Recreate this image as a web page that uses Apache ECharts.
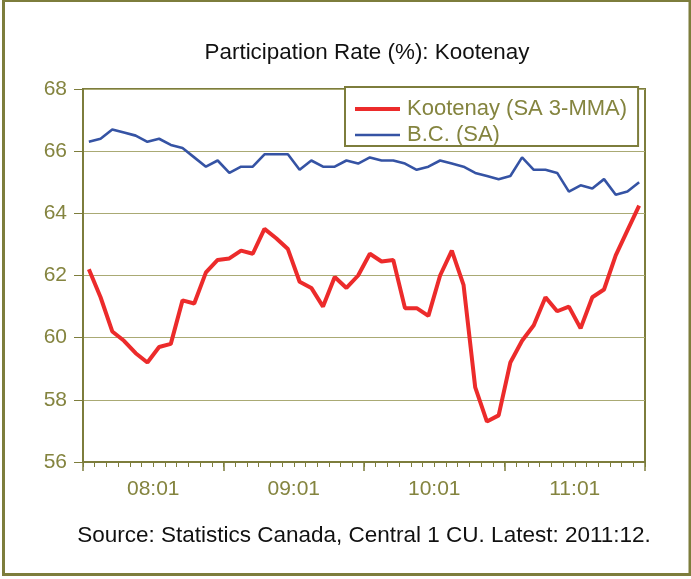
<!DOCTYPE html>
<html>
<head>
<meta charset="utf-8">
<script src="https://cdn.jsdelivr.net/npm/echarts@6/dist/echarts.min.js"></script>
<style>
  html, body { margin: 0; padding: 0; background: #ffffff; }
  #chart { width: 691px; height: 579px; }
</style>
</head>
<body>
<div id="chart"></div>
<script>
// Monthly participation rate, 2008:01 - 2011:12
var years = ['08', '09', '10', '11'];
var monthCodes = ['01','02','03','04','05','06','07','08','09','10','11','12'];
var yearLabels = ['08:01', '09:01', '10:01', '11:01'];

var kootenay = [
  62.2, 61.3, 60.2, 59.9, 59.5, 59.2, 59.7, 59.8, 61.2, 61.1, 62.1, 62.5,
  62.55, 62.8, 62.7, 63.5, 63.2, 62.85, 61.8, 61.6, 61.0, 61.95, 61.6, 62.0,
  62.7, 62.45, 62.5, 60.95, 60.95, 60.7, 62.0, 62.8, 61.7, 58.4, 57.3, 57.5,
  59.2, 59.9, 60.4, 61.3, 60.85, 61.0, 60.3, 61.3, 61.55, 62.65, 63.45, 64.25
];

var bc = [
  66.3, 66.4, 66.7, 66.6, 66.5, 66.3, 66.4, 66.2, 66.1, 65.8, 65.5, 65.7,
  65.3, 65.5, 65.5, 65.9, 65.9, 65.9, 65.4, 65.7, 65.5, 65.5, 65.7, 65.6,
  65.8, 65.7, 65.7, 65.6, 65.4, 65.5, 65.7, 65.6, 65.5, 65.3, 65.2, 65.1,
  65.2, 65.8, 65.4, 65.4, 65.3, 64.7, 64.9, 64.8, 65.1, 64.6, 64.7, 65.0
];

var months = [];
years.forEach(function (y) {
  monthCodes.forEach(function (m) { months.push(y + ':' + m); });
});

var olive = '#7d7d3c';
var oliveText = '#84843f';
var gridColor = '#aaaa74';
var redColor = '#ec2b2b';
var blueColor = '#3553a4';
var font = "'Liberation Sans', Arial, sans-serif";

var chart = echarts.init(document.getElementById('chart'), null, { renderer: 'canvas' });

chart.setOption({
  backgroundColor: '#ffffff',
  animation: false,
  title: [
    {
      text: 'Participation Rate (%): Kootenay',
      left: 362,
      top: 37,
      textAlign: 'center',
      textStyle: { fontFamily: font, fontSize: 22.4, fontWeight: 'normal', color: '#111111' }
    },
    {
      text: 'Source: Statistics Canada, Central 1 CU. Latest: 2011:12.',
      left: 359,
      top: 519,
      textAlign: 'center',
      textStyle: { fontFamily: font, fontSize: 22.5, fontWeight: 'normal', color: '#111111' }
    }
  ],
  graphic: [
    {
      type: 'rect',
      shape: { x: 3.5, y: 0.5, width: 686.5, height: 574 },
      style: { fill: 'none', stroke: olive, lineWidth: 3 },
      silent: true
    }
  ],
  legend: {
    orient: 'vertical',
    left: 345,
    top: 87,
    padding: [11, 11, 0, 10],
    itemGap: 4,
    itemWidth: 45,
    itemHeight: 4,
    borderColor: olive,
    borderWidth: 2,
    backgroundColor: '#ffffff',
    textStyle: { fontFamily: font, fontSize: 22, lineHeight: 22, color: oliveText, padding: [0, 0, 0, 2] },
    data: [
      { name: 'Kootenay (SA 3-MMA)', icon: 'path://M0 0H45V4H0Z', itemStyle: { color: redColor } },
      { name: 'B.C. (SA)', icon: 'path://M0 0H45V2.6H0Z', itemStyle: { color: blueColor } }
    ]
  },
  grid: {
    left: 83,
    right: 46,
    top: 89,
    bottom: 117,
    show: true,
    borderColor: olive,
    borderWidth: 2,
    backgroundColor: '#ffffff'
  },
  xAxis: [
    {
      type: 'category',
      data: months,
      boundaryGap: true,
      position: 'bottom',
      axisLine: { show: true, lineStyle: { color: olive, width: 2 } },
      axisTick: { show: true, interval: 0, length: 5, lineStyle: { color: olive, width: 1 } },
      axisLabel: { show: false },
      splitLine: { show: false }
    },
    {
      type: 'category',
      data: yearLabels,
      boundaryGap: true,
      position: 'bottom',
      axisLine: { show: false },
      axisTick: { show: true, interval: 0, length: 9, lineStyle: { color: olive, width: 1.5 } },
      axisLabel: { show: true, interval: 0, margin: 17, fontFamily: font, fontSize: 21, color: oliveText },
      splitLine: { show: false }
    }
  ],
  yAxis: {
    type: 'value',
    min: 56,
    max: 68,
    interval: 2,
    axisLine: { show: true, lineStyle: { color: olive, width: 2 } },
    axisTick: { show: true, length: 9, lineStyle: { color: olive, width: 1 } },
    axisLabel: { margin: 16, fontFamily: font, fontSize: 21, color: oliveText },
    splitLine: { show: true, lineStyle: { color: gridColor, width: 1.2 } }
  },
  series: [
    {
      name: 'Kootenay (SA 3-MMA)',
      type: 'line',
      xAxisIndex: 0,
      data: kootenay,
      symbol: 'none',
      color: redColor,
      lineStyle: { color: redColor, width: 4 },
      z: 3
    },
    {
      name: 'B.C. (SA)',
      type: 'line',
      xAxisIndex: 0,
      data: bc,
      symbol: 'none',
      color: blueColor,
      lineStyle: { color: blueColor, width: 2.6 },
      z: 2
    }
  ]
});
</script>
</body>
</html>
